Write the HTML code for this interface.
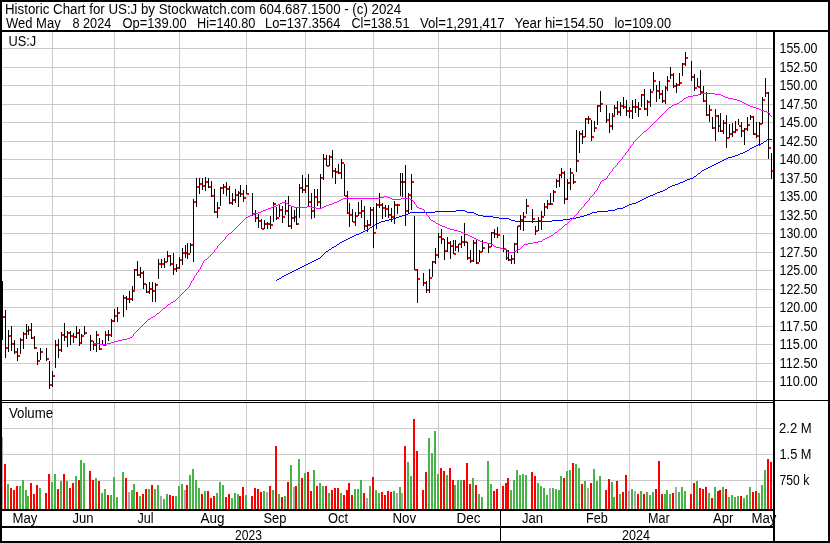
<!DOCTYPE html>
<html><head><meta charset="utf-8"><title>Historic Chart for US:J</title>
<style>html,body{margin:0;padding:0;background:#fff;overflow:hidden}svg{display:block}</style>
</head><body>
<svg width="830" height="543" viewBox="0 0 830 543" shape-rendering="crispEdges">
<rect width="830" height="543" fill="#fff"/>
<path d="M2 48h771M2 67h771M2 85h771M2 104h771M2 122h771M2 141h771M2 159h771M2 178h771M2 196h771M2 215h771M2 233h771M2 252h771M2 270h771M2 289h771M2 307h771M2 326h771M2 344h771M2 363h771M2 381h771M2 428h771M2 454h771M2 480h771" stroke="#cacaca" stroke-width="1" transform="translate(0,0.5)"/>
<path d="M52 32v368M52 403v106M114 32v368M114 403v106M179 32v368M179 403v106M246 32v368M246 403v106M305 32v368M305 403v106M373 32v368M373 403v106M438 32v368M438 403v106M500 32v368M500 403v106M567 32v368M567 403v106M629 32v368M629 403v106M691 32v368M691 403v106M756 32v368M756 403v106" stroke="#cacaca" stroke-width="1" transform="translate(0.5,0)"/>
<path d="M4 464h2V509h-2zM10 488h2V509h-2zM13 490h2V509h-2zM16 486h2V509h-2zM30 483h2V509h-2zM33 494h2V509h-2zM36 485h2V509h-2zM45 493h2V509h-2zM48 474h2V509h-2zM57 489h2V509h-2zM63 474h2V509h-2zM69 488h2V509h-2zM72 483h2V509h-2zM78 480h2V509h-2zM89 471h2V509h-2zM92 480h2V509h-2zM98 481h2V509h-2zM107 495h2V509h-2zM125 478h2V509h-2zM136 492h2V509h-2zM142 494h2V509h-2zM145 489h2V509h-2zM151 485h2V509h-2zM169 495h2V509h-2zM172 496h2V509h-2zM186 485h2V509h-2zM201 494h2V509h-2zM207 491h2V509h-2zM210 498h2V509h-2zM213 496h2V509h-2zM225 497h2V509h-2zM228 494h2V509h-2zM239 496h2V509h-2zM242 487h2V509h-2zM251 496h2V509h-2zM254 488h2V509h-2zM257 489h2V509h-2zM260 492h2V509h-2zM269 486h2V509h-2zM275 446h2V509h-2zM281 497h2V509h-2zM287 482h2V509h-2zM295 486h2V509h-2zM301 478h2V509h-2zM307 472h2V509h-2zM310 491h2V509h-2zM316 486h2V509h-2zM325 486h2V509h-2zM331 490h2V509h-2zM334 488h2V509h-2zM337 488h2V509h-2zM343 495h2V509h-2zM346 490h2V509h-2zM348 483h2V509h-2zM351 495h2V509h-2zM363 493h2V509h-2zM372 477h2V509h-2zM381 492h2V509h-2zM384 495h2V509h-2zM387 491h2V509h-2zM390 492h2V509h-2zM404 446h2V509h-2zM413 419h2V509h-2zM416 451h2V509h-2zM422 490h2V509h-2zM425 472h2V509h-2zM440 468h2V509h-2zM443 471h2V509h-2zM449 468h2V509h-2zM452 480h2V509h-2zM463 480h2V509h-2zM466 463h2V509h-2zM469 484h2V509h-2zM475 485h2V509h-2zM493 491h2V509h-2zM496 489h2V509h-2zM502 486h2V509h-2zM505 483h2V509h-2zM507 478h2V509h-2zM531 472h2V509h-2zM534 476h2V509h-2zM563 478h2V509h-2zM572 463h2V509h-2zM581 484h2V509h-2zM590 483h2V509h-2zM605 490h2V509h-2zM608 479h2V509h-2zM616 481h2V509h-2zM622 492h2V509h-2zM625 475h2V509h-2zM637 494h2V509h-2zM643 494h2V509h-2zM655 489h2V509h-2zM658 461h2V509h-2zM661 494h2V509h-2zM672 493h2V509h-2zM690 494h2V509h-2zM693 483h2V509h-2zM699 488h2V509h-2zM702 489h2V509h-2zM705 487h2V509h-2zM711 498h2V509h-2zM717 491h2V509h-2zM719 490h2V509h-2zM725 489h2V509h-2zM740 496h2V509h-2zM752 492h2V509h-2zM755 491h2V509h-2zM767 459h2V509h-2zM770 462h2V509h-2z" fill="#ff0000"/>
<path d="M7 484h2V509h-2zM19 486h2V509h-2zM22 480h2V509h-2zM25 490h2V509h-2zM27 496h2V509h-2zM39 488h2V509h-2zM51 482h2V509h-2zM54 474h2V509h-2zM60 481h2V509h-2zM66 481h2V509h-2zM75 476h2V509h-2zM80 460h2V509h-2zM83 463h2V509h-2zM95 478h2V509h-2zM101 493h2V509h-2zM104 489h2V509h-2zM110 495h2V509h-2zM113 477h2V509h-2zM116 497h2V509h-2zM122 472h2V509h-2zM131 490h2V509h-2zM133 484h2V509h-2zM139 496h2V509h-2zM148 489h2V509h-2zM154 489h2V509h-2zM157 485h2V509h-2zM163 499h2V509h-2zM166 494h2V509h-2zM175 496h2V509h-2zM178 486h2V509h-2zM181 484h2V509h-2zM189 475h2V509h-2zM192 469h2V509h-2zM195 480h2V509h-2zM198 488h2V509h-2zM204 491h2V509h-2zM216 493h2V509h-2zM219 482h2V509h-2zM222 485h2V509h-2zM231 498h2V509h-2zM234 493h2V509h-2zM237 494h2V509h-2zM245 495h2V509h-2zM263 491h2V509h-2zM272 490h2V509h-2zM278 494h2V509h-2zM284 496h2V509h-2zM290 465h2V509h-2zM298 459h2V509h-2zM304 473h2V509h-2zM313 470h2V509h-2zM319 483h2V509h-2zM322 486h2V509h-2zM328 493h2V509h-2zM340 493h2V509h-2zM354 489h2V509h-2zM357 489h2V509h-2zM360 480h2V509h-2zM369 486h2V509h-2zM375 490h2V509h-2zM378 493h2V509h-2zM393 491h2V509h-2zM399 487h2V509h-2zM407 462h2V509h-2zM410 476h2V509h-2zM428 438h2V509h-2zM431 453h2V509h-2zM434 431h2V509h-2zM437 474h2V509h-2zM446 475h2V509h-2zM454 485h2V509h-2zM457 480h2V509h-2zM460 480h2V509h-2zM472 478h2V509h-2zM478 494h2V509h-2zM481 497h2V509h-2zM487 461h2V509h-2zM490 484h2V509h-2zM510 490h2V509h-2zM513 480h2V509h-2zM516 470h2V509h-2zM519 475h2V509h-2zM522 474h2V509h-2zM525 475h2V509h-2zM537 483h2V509h-2zM540 486h2V509h-2zM543 488h2V509h-2zM546 495h2V509h-2zM552 488h2V509h-2zM555 489h2V509h-2zM558 490h2V509h-2zM560 476h2V509h-2zM566 471h2V509h-2zM569 470h2V509h-2zM575 464h2V509h-2zM578 468h2V509h-2zM584 481h2V509h-2zM593 469h2V509h-2zM596 481h2V509h-2zM599 476h2V509h-2zM611 482h2V509h-2zM613 497h2V509h-2zM619 494h2V509h-2zM631 489h2V509h-2zM640 491h2V509h-2zM646 492h2V509h-2zM649 495h2V509h-2zM652 492h2V509h-2zM664 494h2V509h-2zM666 490h2V509h-2zM669 494h2V509h-2zM678 492h2V509h-2zM681 487h2V509h-2zM684 491h2V509h-2zM696 481h2V509h-2zM708 493h2V509h-2zM714 487h2V509h-2zM722 487h2V509h-2zM728 497h2V509h-2zM731 495h2V509h-2zM734 497h2V509h-2zM737 496h2V509h-2zM743 498h2V509h-2zM746 495h2V509h-2zM749 487h2V509h-2zM758 493h2V509h-2zM761 485h2V509h-2zM764 470h2V509h-2z" fill="#46b446"/>
<path d="M1 437h2V509h-2zM128 492h2V509h-2zM160 496h2V509h-2zM184 490h2V509h-2zM266 492h2V509h-2zM293 487h2V509h-2zM366 498h2V509h-2zM396 493h2V509h-2zM401 493h2V509h-2zM549 488h2V509h-2zM587 488h2V509h-2zM628 491h2V509h-2zM634 491h2V509h-2zM675 487h2V509h-2z" fill="#a8a8a8"/>
<path d="M3 316h2v2h-2zM6 347h2v2h-2zM9 335h2v2h-2zM12 343h2v2h-2zM15 351h2v2h-2zM18 355h2v2h-2zM21 339h2v2h-2zM24 333h2v2h-2zM27 330h2v2h-2zM29 329h2v2h-2zM32 337h2v2h-2zM35 347h2v2h-2zM38 360h2v2h-2zM41 351h2v2h-2zM47 358h2v2h-2zM50 384h2v2h-2zM53 375h2v2h-2zM56 344h2v2h-2zM59 349h2v2h-2zM62 334h2v2h-2zM65 336h2v2h-2zM68 332h2v2h-2zM71 335h2v2h-2zM74 336h2v2h-2zM77 332h2v2h-2zM80 342h2v2h-2zM82 335h2v2h-2zM85 332h2v2h-2zM91 340h2v2h-2zM94 344h2v2h-2zM97 334h2v2h-2zM100 348h2v2h-2zM103 344h2v2h-2zM106 334h2v2h-2zM109 334h2v2h-2zM112 320h2v2h-2zM115 315h2v2h-2zM118 312h2v2h-2zM124 297h2v2h-2zM127 298h2v2h-2zM130 298h2v2h-2zM133 290h2v2h-2zM135 269h2v2h-2zM138 274h2v2h-2zM141 272h2v2h-2zM144 283h2v2h-2zM147 291h2v2h-2zM150 288h2v2h-2zM153 290h2v2h-2zM156 284h2v2h-2zM159 263h2v2h-2zM162 263h2v2h-2zM165 261h2v2h-2zM168 255h2v2h-2zM171 263h2v2h-2zM174 268h2v2h-2zM177 267h2v2h-2zM180 259h2v2h-2zM183 252h2v2h-2zM186 252h2v2h-2zM188 253h2v2h-2zM191 244h2v2h-2zM194 201h2v2h-2zM197 186h2v2h-2zM200 183h2v2h-2zM203 185h2v2h-2zM206 181h2v2h-2zM209 186h2v2h-2zM212 195h2v2h-2zM215 211h2v2h-2zM218 207h2v2h-2zM221 187h2v2h-2zM224 186h2v2h-2zM227 188h2v2h-2zM230 202h2v2h-2zM233 199h2v2h-2zM236 194h2v2h-2zM239 192h2v2h-2zM241 193h2v2h-2zM244 197h2v2h-2zM247 193h2v2h-2zM253 213h2v2h-2zM256 217h2v2h-2zM259 220h2v2h-2zM262 228h2v2h-2zM265 223h2v2h-2zM268 223h2v2h-2zM271 224h2v2h-2zM274 203h2v2h-2zM277 217h2v2h-2zM280 209h2v2h-2zM283 216h2v2h-2zM286 210h2v2h-2zM289 225h2v2h-2zM292 217h2v2h-2zM295 216h2v2h-2zM297 223h2v2h-2zM300 187h2v2h-2zM303 189h2v2h-2zM306 185h2v2h-2zM309 201h2v2h-2zM312 210h2v2h-2zM315 196h2v2h-2zM318 201h2v2h-2zM321 177h2v2h-2zM324 158h2v2h-2zM327 165h2v2h-2zM330 156h2v2h-2zM333 170h2v2h-2zM336 171h2v2h-2zM339 172h2v2h-2zM342 162h2v2h-2zM345 195h2v2h-2zM348 212h2v2h-2zM350 214h2v2h-2zM353 221h2v2h-2zM356 215h2v2h-2zM359 212h2v2h-2zM362 210h2v2h-2zM365 225h2v2h-2zM368 224h2v2h-2zM371 209h2v2h-2zM374 232h2v2h-2zM377 204h2v2h-2zM380 204h2v2h-2zM383 207h2v2h-2zM386 208h2v2h-2zM389 214h2v2h-2zM392 216h2v2h-2zM395 204h2v2h-2zM398 204h2v2h-2zM401 181h2v2h-2zM403 181h2v2h-2zM406 210h2v2h-2zM409 194h2v2h-2zM412 181h2v2h-2zM415 269h2v2h-2zM418 278h2v2h-2zM424 282h2v2h-2zM427 289h2v2h-2zM430 277h2v2h-2zM433 261h2v2h-2zM436 254h2v2h-2zM439 236h2v2h-2zM442 238h2v2h-2zM445 250h2v2h-2zM448 242h2v2h-2zM451 245h2v2h-2zM454 253h2v2h-2zM456 246h2v2h-2zM459 243h2v2h-2zM462 241h2v2h-2zM465 241h2v2h-2zM468 257h2v2h-2zM471 260h2v2h-2zM474 242h2v2h-2zM477 262h2v2h-2zM480 251h2v2h-2zM483 247h2v2h-2zM489 246h2v2h-2zM492 232h2v2h-2zM495 233h2v2h-2zM498 234h2v2h-2zM504 248h2v2h-2zM507 257h2v2h-2zM509 259h2v2h-2zM512 258h2v2h-2zM515 243h2v2h-2zM518 225h2v2h-2zM521 219h2v2h-2zM524 216h2v2h-2zM527 205h2v2h-2zM533 218h2v2h-2zM536 230h2v2h-2zM539 220h2v2h-2zM542 216h2v2h-2zM545 206h2v2h-2zM548 203h2v2h-2zM551 203h2v2h-2zM554 191h2v2h-2zM557 180h2v2h-2zM560 174h2v2h-2zM562 172h2v2h-2zM565 198h2v2h-2zM568 182h2v2h-2zM571 172h2v2h-2zM574 181h2v2h-2zM577 160h2v2h-2zM580 133h2v2h-2zM583 136h2v2h-2zM586 118h2v2h-2zM589 118h2v2h-2zM592 136h2v2h-2zM595 127h2v2h-2zM598 105h2v2h-2zM601 103h2v2h-2zM607 119h2v2h-2zM610 125h2v2h-2zM613 115h2v2h-2zM615 107h2v2h-2zM618 111h2v2h-2zM621 105h2v2h-2zM624 106h2v2h-2zM627 110h2v2h-2zM630 110h2v2h-2zM633 106h2v2h-2zM636 106h2v2h-2zM639 108h2v2h-2zM642 94h2v2h-2zM645 108h2v2h-2zM648 101h2v2h-2zM651 91h2v2h-2zM654 80h2v2h-2zM657 90h2v2h-2zM660 93h2v2h-2zM663 100h2v2h-2zM666 87h2v2h-2zM668 80h2v2h-2zM671 74h2v2h-2zM674 85h2v2h-2zM677 84h2v2h-2zM680 82h2v2h-2zM683 63h2v2h-2zM686 57h2v2h-2zM692 76h2v2h-2zM695 87h2v2h-2zM698 86h2v2h-2zM701 91h2v2h-2zM704 100h2v2h-2zM707 114h2v2h-2zM710 109h2v2h-2zM713 127h2v2h-2zM716 115h2v2h-2zM719 125h2v2h-2zM721 130h2v2h-2zM724 122h2v2h-2zM727 137h2v2h-2zM730 133h2v2h-2zM733 131h2v2h-2zM736 129h2v2h-2zM739 125h2v2h-2zM742 130h2v2h-2zM745 128h2v2h-2zM748 124h2v2h-2zM751 116h2v2h-2zM754 133h2v2h-2zM757 135h2v2h-2zM760 123h2v2h-2zM763 99h2v2h-2zM766 92h2v2h-2zM769 147h2v2h-2zM772 170h2v2h-2z" fill="#ff0000"/>
<path d="M2 281h1V340h-1zM5 310h1V358h-1zM8 330h1V352h-1zM11 326h1V351h-1zM14 340h1V354h-1zM17 348h1V361h-1zM20 338h1V354h-1zM23 332h1V349h-1zM26 324h1V339h-1zM28 326h1V335h-1zM31 323h1V339h-1zM34 336h1V349h-1zM37 352h1V365h-1zM40 348h1V360h-1zM46 348h1V361h-1zM49 361h1V389h-1zM52 371h1V387h-1zM55 340h1V368h-1zM58 339h1V358h-1zM61 332h1V352h-1zM64 323h1V341h-1zM67 331h1V347h-1zM70 331h1V345h-1zM73 333h1V343h-1zM76 326h1V338h-1zM79 329h1V346h-1zM81 334h1V344h-1zM84 326h1V335h-1zM90 335h1V351h-1zM93 341h1V350h-1zM96 331h1V352h-1zM99 338h1V350h-1zM102 340h1V345h-1zM105 331h1V346h-1zM108 330h1V341h-1zM111 319h1V337h-1zM114 309h1V322h-1zM117 307h1V322h-1zM123 295h1V317h-1zM126 296h1V310h-1zM129 291h1V303h-1zM132 286h1V301h-1zM134 269h1V290h-1zM137 261h1V276h-1zM140 267h1V278h-1zM143 271h1V289h-1zM146 284h1V293h-1zM149 282h1V294h-1zM152 282h1V302h-1zM155 283h1V302h-1zM158 259h1V279h-1zM161 259h1V268h-1zM164 258h1V268h-1zM167 251h1V262h-1zM170 255h1V266h-1zM173 253h1V275h-1zM176 264h1V272h-1zM179 257h1V269h-1zM182 248h1V265h-1zM185 245h1V258h-1zM187 243h1V259h-1zM190 243h1V253h-1zM193 199h1V262h-1zM196 178h1V207h-1zM199 178h1V194h-1zM202 178h1V190h-1zM205 177h1V191h-1zM208 178h1V188h-1zM211 181h1V197h-1zM214 189h1V213h-1zM217 202h1V218h-1zM220 187h1V206h-1zM223 184h1V194h-1zM226 182h1V196h-1zM229 186h1V204h-1zM232 193h1V205h-1zM235 189h1V203h-1zM238 191h1V207h-1zM240 185h1V197h-1zM243 190h1V202h-1zM246 185h1V194h-1zM252 193h1V216h-1zM255 210h1V222h-1zM258 214h1V228h-1zM261 219h1V229h-1zM264 220h1V229h-1zM267 222h1V229h-1zM270 216h1V229h-1zM273 202h1V222h-1zM276 207h1V220h-1zM279 204h1V217h-1zM282 206h1V223h-1zM285 200h1V215h-1zM288 196h1V227h-1zM291 206h1V229h-1zM294 210h1V222h-1zM296 208h1V225h-1zM299 184h1V218h-1zM302 175h1V193h-1zM305 178h1V193h-1zM308 174h1V206h-1zM311 193h1V219h-1zM314 189h1V218h-1zM317 189h1V206h-1zM320 174h1V208h-1zM323 154h1V180h-1zM326 155h1V166h-1zM329 155h1V166h-1zM332 150h1V178h-1zM335 168h1V184h-1zM338 164h1V174h-1zM341 159h1V179h-1zM344 164h1V196h-1zM347 191h1V214h-1zM349 203h1V227h-1zM352 209h1V222h-1zM355 212h1V226h-1zM358 202h1V216h-1zM361 200h1V218h-1zM364 206h1V230h-1zM367 220h1V232h-1zM370 207h1V226h-1zM373 207h1V248h-1zM376 203h1V229h-1zM379 193h1V208h-1zM382 203h1V219h-1zM385 205h1V217h-1zM388 205h1V218h-1zM391 208h1V222h-1zM394 201h1V224h-1zM397 204h1V214h-1zM400 173h1V196h-1zM402 173h1V197h-1zM405 165h1V226h-1zM408 193h1V213h-1zM411 174h1V210h-1zM414 216h1V270h-1zM417 269h1V303h-1zM423 273h1V286h-1zM426 281h1V293h-1zM429 269h1V293h-1zM432 261h1V277h-1zM435 248h1V264h-1zM438 233h1V258h-1zM441 229h1V244h-1zM444 239h1V260h-1zM447 237h1V252h-1zM450 241h1V259h-1zM453 240h1V254h-1zM455 240h1V251h-1zM458 244h1V252h-1zM461 236h1V248h-1zM464 223h1V246h-1zM467 242h1V260h-1zM470 250h1V263h-1zM473 240h1V262h-1zM476 239h1V264h-1zM479 250h1V262h-1zM482 240h1V252h-1zM488 243h1V253h-1zM491 232h1V247h-1zM494 229h1V238h-1zM497 227h1V238h-1zM503 235h1V252h-1zM506 250h1V260h-1zM508 250h1V261h-1zM511 255h1V264h-1zM514 243h1V264h-1zM517 226h1V253h-1zM520 215h1V230h-1zM523 212h1V231h-1zM526 199h1V214h-1zM532 209h1V223h-1zM535 226h1V235h-1zM538 217h1V231h-1zM541 211h1V230h-1zM544 203h1V216h-1zM547 200h1V209h-1zM550 193h1V205h-1zM553 190h1V202h-1zM556 179h1V188h-1zM559 174h1V187h-1zM561 168h1V178h-1zM564 171h1V204h-1zM567 179h1V200h-1zM570 168h1V190h-1zM573 174h1V184h-1zM576 130h1V172h-1zM579 131h1V153h-1zM582 130h1V144h-1zM585 118h1V137h-1zM588 116h1V124h-1zM591 120h1V141h-1zM594 121h1V132h-1zM597 105h1V125h-1zM600 91h1V112h-1zM606 105h1V123h-1zM609 113h1V133h-1zM612 113h1V130h-1zM614 105h1V115h-1zM617 101h1V115h-1zM620 102h1V116h-1zM623 97h1V109h-1zM626 100h1V116h-1zM629 107h1V118h-1zM632 100h1V119h-1zM635 99h1V113h-1zM638 102h1V117h-1zM641 94h1V107h-1zM644 89h1V110h-1zM647 100h1V116h-1zM650 89h1V107h-1zM653 72h1V91h-1zM656 85h1V102h-1zM659 81h1V99h-1zM662 90h1V103h-1zM665 86h1V104h-1zM667 76h1V91h-1zM670 67h1V79h-1zM673 73h1V88h-1zM676 83h1V93h-1zM679 73h1V86h-1zM682 63h1V76h-1zM685 52h1V66h-1zM691 61h1V81h-1zM694 74h1V91h-1zM697 78h1V87h-1zM700 70h1V95h-1zM703 86h1V102h-1zM706 92h1V116h-1zM709 105h1V122h-1zM712 117h1V129h-1zM715 109h1V141h-1zM718 115h1V132h-1zM720 113h1V132h-1zM723 120h1V134h-1zM726 115h1V148h-1zM729 124h1V138h-1zM732 123h1V137h-1zM735 121h1V133h-1zM738 119h1V125h-1zM741 122h1V137h-1zM744 128h1V145h-1zM747 117h1V131h-1zM750 115h1V120h-1zM753 116h1V135h-1zM756 122h1V138h-1zM759 122h1V146h-1zM762 97h1V124h-1zM765 78h1V97h-1zM768 92h1V159h-1zM771 153h1V179h-1z" fill="#000"/>
<path d="M732 156h3v1h-3zM342 241h2v1h-2zM331 248h1v1h-1zM320 257h1v1h-1zM393 218h3v1h-3zM499 218h10v1h-10zM570 218h6v1h-6zM702 170h2v1h-2zM650 195h3v1h-3zM381 221h4v1h-4zM515 221h37v1h-37zM410 212h25v1h-25zM467 212h7v1h-7zM592 212h5v1h-5zM680 182h3v1h-3zM292 271h2v1h-2zM389 219h4v1h-4zM509 219h2v1h-2zM563 219h7v1h-7zM356 234h3v1h-3zM617 208h6v1h-6zM655 193h2v1h-2zM288 273h2v1h-2zM399 216h3v1h-3zM483 216h10v1h-10zM580 216h4v1h-4zM385 220h4v1h-4zM511 220h4v1h-4zM552 220h11v1h-11zM712 165h2v1h-2zM756 145h2v1h-2zM743 152h2v1h-2zM747 150h2v1h-2zM670 186h2v1h-2zM302 266h2v1h-2zM632 203h4v1h-4zM435 211h21v1h-21zM465 211h2v1h-2zM597 211h11v1h-11zM646 197h2v1h-2zM396 217h3v1h-3zM493 217h6v1h-6zM576 217h4v1h-4zM615 209h2v1h-2zM344 240h2v1h-2zM279 278h2v1h-2zM738 154h2v1h-2zM284 275h2v1h-2zM627 205h2v1h-2zM708 167h2v1h-2zM752 147h2v1h-2zM657 192h3v1h-3zM693 177h1v1h-1zM298 268h2v1h-2zM704 169h2v1h-2zM405 214h3v1h-3zM476 214h2v1h-2zM587 214h3v1h-3zM758 144h3v1h-3zM456 210h9v1h-9zM608 210h7v1h-7zM294 270h2v1h-2zM642 199h2v1h-2zM728 157h4v1h-4zM763 142h1v1h-1zM340 242h2v1h-2zM276 280h1v1h-1zM332 247h2v1h-2zM638 201h2v1h-2zM678 183h2v1h-2zM724 159h2v1h-2zM314 260h2v1h-2zM653 194h2v1h-2zM697 174h1v1h-1zM687 179h3v1h-3zM402 215h3v1h-3zM478 215h5v1h-5zM584 215h3v1h-3zM623 207h2v1h-2zM754 146h2v1h-2zM745 151h2v1h-2zM668 187h2v1h-2zM290 272h2v1h-2zM325 252h1v1h-1zM750 148h2v1h-2zM337 244h2v1h-2zM665 189h2v1h-2zM329 249h2v1h-2zM318 258h2v1h-2zM764 141h2v1h-2zM322 255h1v1h-1zM767 139h5v1h-5zM310 262h2v1h-2zM735 155h3v1h-3zM282 276h2v1h-2zM698 173h2v1h-2zM352 236h2v1h-2zM740 153h3v1h-3zM690 178h3v1h-3zM286 274h2v1h-2zM629 204h3v1h-3zM660 191h3v1h-3zM379 222h2v1h-2zM370 227h2v1h-2zM761 143h2v1h-2zM306 264h2v1h-2zM636 202h2v1h-2zM408 213h2v1h-2zM474 213h2v1h-2zM590 213h2v1h-2zM348 238h2v1h-2zM296 269h2v1h-2zM625 206h2v1h-2zM375 224h2v1h-2zM367 229h2v1h-2zM726 158h2v1h-2zM667 188h1v1h-1zM316 259h2v1h-2zM675 184h3v1h-3zM722 160h2v1h-2zM312 261h2v1h-2zM324 253h1v1h-1zM336 245h1v1h-1zM648 196h2v1h-2zM363 231h2v1h-2zM281 277h1v1h-1zM663 190h2v1h-2zM377 223h2v1h-2zM369 228h1v1h-1zM718 162h2v1h-2zM749 149h1v1h-1zM308 263h2v1h-2zM328 250h1v1h-1zM354 235h2v1h-2zM672 185h3v1h-3zM683 181h2v1h-2zM350 237h2v1h-2zM644 198h2v1h-2zM701 171h1v1h-1zM277 279h2v1h-2zM373 225h2v1h-2zM365 230h2v1h-2zM714 164h2v1h-2zM694 176h2v1h-2zM304 265h2v1h-2zM720 161h2v1h-2zM300 267h2v1h-2zM346 239h2v1h-2zM640 200h2v1h-2zM361 232h2v1h-2zM716 163h2v1h-2zM334 246h2v1h-2zM326 251h2v1h-2zM685 180h2v1h-2zM696 175h1v1h-1zM766 140h1v1h-1zM700 172h1v1h-1zM359 233h2v1h-2zM372 226h1v1h-1zM321 256h1v1h-1zM710 166h2v1h-2zM706 168h2v1h-2zM323 254h1v1h-1zM339 243h1v1h-1z" fill="#0000ff"/>
<path d="M280 203h2v1h-2zM286 203h2v1h-2zM332 203h2v1h-2zM414 203h1v1h-1zM585 203h1v1h-1zM698 94h2v1h-2zM715 94h6v1h-6zM217 247h1v1h-1zM496 247h4v1h-4zM521 247h1v1h-1zM343 198h37v1h-37zM390 198h2v1h-2zM401 198h9v1h-9zM589 198h1v1h-1zM213 252h1v1h-1zM508 252h6v1h-6zM337 201h2v1h-2zM413 201h1v1h-1zM587 201h1v1h-1zM268 208h3v1h-3zM316 208h6v1h-6zM419 208h3v1h-3zM581 208h1v1h-1zM231 232h1v1h-1zM461 232h2v1h-2zM555 232h2v1h-2zM665 111h1v1h-1zM764 111h3v1h-3zM224 239h1v1h-1zM476 239h2v1h-2zM543 239h2v1h-2zM599 184h1v1h-1zM219 244h1v1h-1zM491 244h2v1h-2zM524 244h4v1h-4zM688 96h5v1h-5zM723 96h2v1h-2zM186 289h1v1h-1zM189 285h1v1h-1zM233 230h1v1h-1zM454 230h4v1h-4zM558 230h1v1h-1zM271 207h2v1h-2zM294 207h13v1h-13zM311 207h5v1h-5zM322 207h2v1h-2zM417 207h2v1h-2zM582 207h1v1h-1zM669 107h2v1h-2zM753 107h3v1h-3zM626 152h1v1h-1zM135 332h1v1h-1zM629 148h1v1h-1zM255 213h3v1h-3zM426 213h1v1h-1zM577 213h1v1h-1zM384 196h3v1h-3zM591 196h1v1h-1zM682 100h1v1h-1zM737 100h3v1h-3zM595 191h1v1h-1zM653 123h1v1h-1zM193 278h1v1h-1zM162 309h1v1h-1zM341 199h2v1h-2zM392 199h9v1h-9zM410 199h2v1h-2zM589 199h1v1h-1zM672 105h2v1h-2zM748 105h2v1h-2zM173 301h2v1h-2zM680 101h2v1h-2zM740 101h2v1h-2zM221 242h1v1h-1zM482 242h5v1h-5zM533 242h5v1h-5zM339 200h2v1h-2zM412 200h1v1h-1zM588 200h1v1h-1zM166 306h1v1h-1zM266 209h2v1h-2zM422 209h2v1h-2zM580 209h1v1h-1zM225 238h1v1h-1zM474 238h2v1h-2zM545 238h2v1h-2zM222 241h1v1h-1zM480 241h2v1h-2zM538 241h4v1h-4zM240 223h1v1h-1zM436 223h2v1h-2zM567 223h1v1h-1zM380 197h4v1h-4zM387 197h3v1h-3zM590 197h1v1h-1zM637 138h1v1h-1zM679 102h1v1h-1zM742 102h2v1h-2zM606 178h1v1h-1zM227 235h1v1h-1zM468 235h2v1h-2zM551 235h2v1h-2zM234 229h1v1h-1zM450 229h4v1h-4zM559 229h2v1h-2zM138 329h1v1h-1zM216 248h1v1h-1zM500 248h3v1h-3zM520 248h1v1h-1zM250 215h2v1h-2zM427 215h1v1h-1zM575 215h1v1h-1zM700 93h15v1h-15zM677 103h2v1h-2zM744 103h2v1h-2zM282 202h4v1h-4zM334 202h3v1h-3zM414 202h1v1h-1zM586 202h1v1h-1zM684 98h2v1h-2zM728 98h5v1h-5zM223 240h1v1h-1zM478 240h2v1h-2zM542 240h1v1h-1zM622 158h1v1h-1zM226 236h1v1h-1zM470 236h2v1h-2zM549 236h2v1h-2zM634 141h1v1h-1zM225 237h1v1h-1zM472 237h2v1h-2zM547 237h2v1h-2zM598 187h1v1h-1zM229 233h2v1h-2zM463 233h2v1h-2zM554 233h1v1h-1zM263 210h3v1h-3zM424 210h1v1h-1zM579 210h1v1h-1zM273 206h3v1h-3zM291 206h3v1h-3zM307 206h4v1h-4zM324 206h2v1h-2zM416 206h1v1h-1zM583 206h1v1h-1zM204 260h1v1h-1zM184 291h1v1h-1zM228 234h1v1h-1zM465 234h3v1h-3zM553 234h1v1h-1zM668 108h1v1h-1zM756 108h3v1h-3zM196 274h1v1h-1zM181 294h1v1h-1zM609 174h1v1h-1zM208 257h1v1h-1zM232 231h1v1h-1zM458 231h3v1h-3zM557 231h1v1h-1zM248 216h2v1h-2zM428 216h1v1h-1zM574 216h1v1h-1zM238 225h1v1h-1zM440 225h2v1h-2zM564 225h1v1h-1zM111 342h3v1h-3zM602 180h2v1h-2zM145 322h1v1h-1zM625 154h1v1h-1zM671 106h1v1h-1zM750 106h3v1h-3zM200 267h1v1h-1zM648 128h1v1h-1zM276 205h2v1h-2zM289 205h2v1h-2zM326 205h3v1h-3zM416 205h1v1h-1zM584 205h1v1h-1zM246 217h2v1h-2zM429 217h1v1h-1zM573 217h1v1h-1zM148 319h2v1h-2zM278 204h2v1h-2zM288 204h1v1h-1zM329 204h3v1h-3zM415 204h1v1h-1zM584 204h1v1h-1zM594 193h1v1h-1zM686 97h2v1h-2zM725 97h3v1h-3zM664 112h1v1h-1zM767 112h2v1h-2zM171 302h2v1h-2zM641 134h1v1h-1zM617 164h1v1h-1zM118 340h4v1h-4zM239 224h1v1h-1zM438 224h2v1h-2zM565 224h2v1h-2zM153 316h2v1h-2zM142 325h1v1h-1zM218 245h1v1h-1zM493 245h1v1h-1zM523 245h1v1h-1zM133 334h1v1h-1zM598 186h1v1h-1zM122 339h5v1h-5zM660 116h1v1h-1zM771 116h1v1h-1zM666 110h1v1h-1zM761 110h3v1h-3zM614 167h1v1h-1zM258 212h3v1h-3zM425 212h1v1h-1zM578 212h1v1h-1zM252 214h3v1h-3zM426 214h1v1h-1zM576 214h1v1h-1zM657 119h1v1h-1zM93 343h6v1h-6zM107 343h4v1h-4zM235 228h1v1h-1zM447 228h3v1h-3zM561 228h1v1h-1zM196 273h1v1h-1zM609 173h1v1h-1zM179 296h1v1h-1zM242 221h1v1h-1zM433 221h2v1h-2zM569 221h1v1h-1zM625 153h1v1h-1zM644 131h2v1h-2zM203 262h1v1h-1zM168 304h2v1h-2zM157 313h2v1h-2zM192 280h1v1h-1zM237 226h1v1h-1zM442 226h3v1h-3zM563 226h1v1h-1zM683 99h1v1h-1zM733 99h4v1h-4zM617 163h1v1h-1zM220 243h1v1h-1zM487 243h4v1h-4zM528 243h5v1h-5zM236 227h1v1h-1zM445 227h2v1h-2zM562 227h1v1h-1zM140 327h1v1h-1zM674 104h3v1h-3zM746 104h2v1h-2zM667 109h1v1h-1zM759 109h2v1h-2zM215 249h1v1h-1zM503 249h4v1h-4zM518 249h2v1h-2zM199 269h1v1h-1zM633 143h1v1h-1zM188 287h1v1h-1zM243 220h1v1h-1zM431 220h2v1h-2zM570 220h1v1h-1zM137 330h1v1h-1zM212 253h1v1h-1zM214 250h1v1h-1zM507 250h1v1h-1zM516 250h2v1h-2zM628 149h1v1h-1zM597 189h1v1h-1zM132 336h1v1h-1zM693 95h5v1h-5zM721 95h2v1h-2zM210 255h1v1h-1zM176 299h1v1h-1zM592 195h1v1h-1zM261 211h2v1h-2zM424 211h1v1h-1zM578 211h1v1h-1zM639 136h1v1h-1zM203 261h1v1h-1zM636 139h1v1h-1zM604 179h2v1h-2zM608 175h1v1h-1zM151 317h2v1h-2zM144 323h1v1h-1zM655 121h1v1h-1zM191 282h1v1h-1zM99 344h8v1h-8zM616 165h1v1h-1zM127 338h3v1h-3zM183 292h1v1h-1zM195 275h1v1h-1zM198 271h1v1h-1zM207 258h1v1h-1zM611 171h1v1h-1zM155 315h1v1h-1zM170 303h1v1h-1zM159 312h1v1h-1zM114 341h4v1h-4zM624 155h1v1h-1zM202 264h1v1h-1zM662 114h1v1h-1zM769 114h1v1h-1zM631 145h1v1h-1zM619 161h1v1h-1zM217 246h1v1h-1zM494 246h2v1h-2zM522 246h1v1h-1zM659 117h1v1h-1zM139 328h1v1h-1zM650 126h1v1h-1zM214 251h1v1h-1zM507 251h1v1h-1zM514 251h2v1h-2zM198 270h1v1h-1zM643 132h1v1h-1zM627 151h1v1h-1zM178 297h1v1h-1zM647 129h1v1h-1zM244 219h1v1h-1zM430 219h1v1h-1zM571 219h1v1h-1zM202 263h1v1h-1zM194 277h1v1h-1zM622 157h1v1h-1zM607 177h1v1h-1zM190 284h1v1h-1zM130 337h2v1h-2zM630 147h1v1h-1zM185 290h1v1h-1zM654 122h1v1h-1zM205 259h2v1h-2zM594 192h1v1h-1zM638 137h1v1h-1zM161 310h1v1h-1zM165 307h1v1h-1zM146 321h1v1h-1zM201 266h1v1h-1zM661 115h1v1h-1zM770 115h1v1h-1zM630 146h1v1h-1zM134 333h1v1h-1zM209 256h1v1h-1zM197 272h1v1h-1zM649 127h1v1h-1zM150 318h1v1h-1zM245 218h1v1h-1zM429 218h1v1h-1zM572 218h1v1h-1zM193 279h1v1h-1zM601 181h1v1h-1zM621 159h1v1h-1zM633 142h1v1h-1zM652 124h1v1h-1zM597 188h1v1h-1zM613 168h1v1h-1zM180 295h1v1h-1zM640 135h1v1h-1zM141 326h1v1h-1zM156 314h1v1h-1zM191 281h1v1h-1zM200 268h1v1h-1zM160 311h1v1h-1zM632 144h1v1h-1zM187 288h1v1h-1zM656 120h1v1h-1zM133 335h1v1h-1zM211 254h1v1h-1zM593 194h1v1h-1zM596 190h1v1h-1zM163 308h2v1h-2zM175 300h1v1h-1zM241 222h1v1h-1zM435 222h1v1h-1zM568 222h1v1h-1zM600 183h1v1h-1zM136 331h1v1h-1zM663 113h1v1h-1zM769 113h1v1h-1zM620 160h1v1h-1zM612 170h1v1h-1zM167 305h1v1h-1zM615 166h1v1h-1zM182 293h1v1h-1zM651 125h1v1h-1zM194 276h1v1h-1zM628 150h1v1h-1zM607 176h1v1h-1zM635 140h1v1h-1zM600 182h1v1h-1zM143 324h1v1h-1zM623 156h1v1h-1zM190 283h1v1h-1zM599 185h1v1h-1zM189 286h1v1h-1zM658 118h1v1h-1zM612 169h1v1h-1zM610 172h1v1h-1zM642 133h1v1h-1zM177 298h1v1h-1zM201 265h1v1h-1zM646 130h1v1h-1zM618 162h1v1h-1zM147 320h1v1h-1z" fill="#ff00ff"/>
<defs><clipPath id="c1"><rect x="0" y="511" width="773" height="15"/></clipPath></defs>
<g font-family="Liberation Sans, Arial, sans-serif" font-size="14" fill="#000" shape-rendering="auto" xml:space="preserve"><text x="5.00" y="14" textLength="396.16" lengthAdjust="spacingAndGlyphs">Historic Chart for US:J by Stockwatch.com 604.687.1500 - (c) 2024</text><text x="6.00" y="28" textLength="54.68" lengthAdjust="spacingAndGlyphs">Wed May</text><text x="72.50" y="28" textLength="38.75" lengthAdjust="spacingAndGlyphs">8 2024</text><text x="122.50" y="28" textLength="64.05" lengthAdjust="spacingAndGlyphs">Op=139.00</text><text x="197.00" y="28" textLength="58.37" lengthAdjust="spacingAndGlyphs">Hi=140.80</text><text x="265.00" y="28" textLength="75.32" lengthAdjust="spacingAndGlyphs">Lo=137.3564</text><text x="351.50" y="28" textLength="57.92" lengthAdjust="spacingAndGlyphs">Cl=138.51</text><text x="420.00" y="28" textLength="84.51" lengthAdjust="spacingAndGlyphs">Vol=1,291,417</text><text x="514.50" y="28" textLength="89.12" lengthAdjust="spacingAndGlyphs">Year hi=154.50</text><text x="614.50" y="28" textLength="56.51" lengthAdjust="spacingAndGlyphs">lo=109.00</text><text x="8.50" y="46" textLength="27.68" lengthAdjust="spacingAndGlyphs">US:J</text><text x="9.00" y="418" textLength="44.06" lengthAdjust="spacingAndGlyphs">Volume</text><text x="779.00" y="433" textLength="32.77" lengthAdjust="spacingAndGlyphs">2.2 M</text><text x="779.50" y="459" textLength="32.02" lengthAdjust="spacingAndGlyphs">1.5 M</text><text x="779.50" y="485" textLength="29.75" lengthAdjust="spacingAndGlyphs">750 k</text><text x="12.50" y="523" textLength="24.95" lengthAdjust="spacingAndGlyphs">May</text><text x="72.50" y="523" textLength="21.08" lengthAdjust="spacingAndGlyphs">Jun</text><text x="137.50" y="523" textLength="16.11" lengthAdjust="spacingAndGlyphs">Jul</text><text x="200.50" y="523" textLength="24.02" lengthAdjust="spacingAndGlyphs">Aug</text><text x="263.50" y="523" textLength="22.82" lengthAdjust="spacingAndGlyphs">Sep</text><text x="328.00" y="523" textLength="19.98" lengthAdjust="spacingAndGlyphs">Oct</text><text x="392.50" y="523" textLength="23.71" lengthAdjust="spacingAndGlyphs">Nov</text><text x="456.50" y="523" textLength="24.01" lengthAdjust="spacingAndGlyphs">Dec</text><text x="522.00" y="523" textLength="21.08" lengthAdjust="spacingAndGlyphs">Jan</text><text x="586.00" y="523" textLength="21.73" lengthAdjust="spacingAndGlyphs">Feb</text><text x="648.00" y="523" textLength="21.73" lengthAdjust="spacingAndGlyphs">Mar</text><text x="713.00" y="523" textLength="20.30" lengthAdjust="spacingAndGlyphs">Apr</text><text x="235.00" y="540" textLength="26.89" lengthAdjust="spacingAndGlyphs">2023</text><text x="622.00" y="540" textLength="27.96" lengthAdjust="spacingAndGlyphs">2024</text><text x="779.50" y="53" textLength="38.03" lengthAdjust="spacingAndGlyphs">155.00</text><text x="779.50" y="72" textLength="38.03" lengthAdjust="spacingAndGlyphs">152.50</text><text x="779.50" y="90" textLength="38.03" lengthAdjust="spacingAndGlyphs">150.00</text><text x="779.50" y="109" textLength="38.03" lengthAdjust="spacingAndGlyphs">147.50</text><text x="779.50" y="127" textLength="38.03" lengthAdjust="spacingAndGlyphs">145.00</text><text x="779.50" y="146" textLength="38.03" lengthAdjust="spacingAndGlyphs">142.50</text><text x="779.50" y="164" textLength="38.03" lengthAdjust="spacingAndGlyphs">140.00</text><text x="779.50" y="183" textLength="38.03" lengthAdjust="spacingAndGlyphs">137.50</text><text x="779.50" y="201" textLength="38.03" lengthAdjust="spacingAndGlyphs">135.00</text><text x="779.50" y="220" textLength="38.03" lengthAdjust="spacingAndGlyphs">132.50</text><text x="779.50" y="238" textLength="38.03" lengthAdjust="spacingAndGlyphs">130.00</text><text x="779.50" y="257" textLength="38.03" lengthAdjust="spacingAndGlyphs">127.50</text><text x="779.50" y="275" textLength="38.03" lengthAdjust="spacingAndGlyphs">125.00</text><text x="779.50" y="294" textLength="38.03" lengthAdjust="spacingAndGlyphs">122.50</text><text x="779.50" y="312" textLength="38.03" lengthAdjust="spacingAndGlyphs">120.00</text><text x="779.50" y="331" textLength="38.18" lengthAdjust="spacingAndGlyphs">117.50</text><text x="779.50" y="349" textLength="38.18" lengthAdjust="spacingAndGlyphs">115.00</text><text x="779.50" y="368" textLength="38.18" lengthAdjust="spacingAndGlyphs">112.50</text><text x="779.50" y="386" textLength="38.18" lengthAdjust="spacingAndGlyphs">110.00</text><text x="751.40" y="523" textLength="24.95" lengthAdjust="spacingAndGlyphs">May</text></g>
<path d="M0 0h830v2h-830zM0 541h830v2h-830zM0 0h2v543h-2zM828 0h2v543h-2zM0 30h830v2h-830zM773 30h2v513h-2zM0 400h830v1h-830zM0 402h773v1h-773zM0 509h773v2h-773zM0 526h773v2h-773zM500 509h1v32h-1z" fill="#000"/>
</svg>
</body></html>
